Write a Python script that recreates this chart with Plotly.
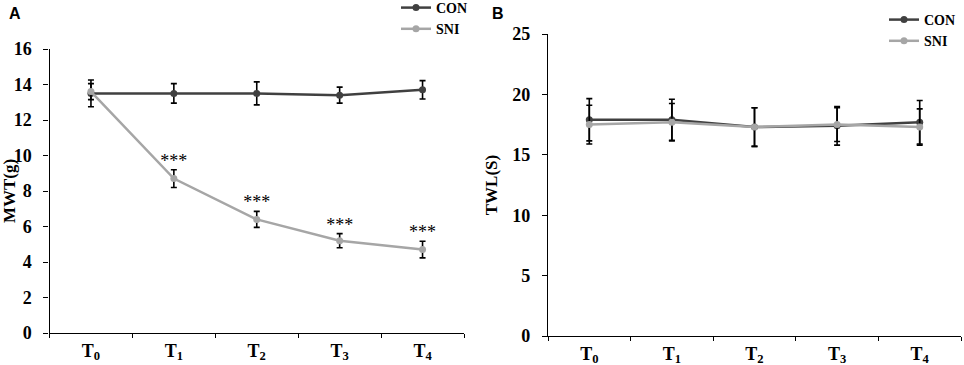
import plotly.graph_objects as go

categories = ["T<sub>0</sub>", "T<sub>1</sub>", "T<sub>2</sub>", "T<sub>3</sub>", "T<sub>4</sub>"]

mwt_con = [13.5, 13.5, 13.5, 13.4, 13.7]
mwt_con_err = [0.75, 0.55, 0.65, 0.45, 0.52]
mwt_sni = [13.6, 8.7, 6.4, 5.2, 4.7]
mwt_sni_err = [0.45, 0.5, 0.45, 0.4, 0.47]
sig_labels = ["", "***", "***", "***", "***"]

twl_con = [17.9, 17.9, 17.3, 17.4, 17.7]
twl_con_err = [1.75, 1.7, 1.6, 1.6, 1.8]
twl_sni = [17.5, 17.7, 17.3, 17.5, 17.3]
twl_sni_err = [1.6, 1.55, 1.6, 1.4, 1.5]

CON_COLOR = "#404040"
SNI_COLOR = "#a6a6a6"
SERIF = "Liberation Serif"

fig = go.Figure()

def add_series(x, y, err, name, color, xa, ya, legend, group):
    fig.add_trace(go.Scatter(
        x=x, y=y, name=name, mode="lines+markers",
        line=dict(color=color, width=2.5),
        marker=dict(color=color, size=7),
        error_y=dict(type="data", array=err, color="black", thickness=1.6, width=3),
        xaxis=xa, yaxis=ya, legend=legend, legendgroup=group,
    ))

add_series(categories, mwt_con, mwt_con_err, "CON", CON_COLOR, "x", "y", "legend", "a")
add_series(categories, mwt_sni, mwt_sni_err, "SNI", SNI_COLOR, "x", "y", "legend", "a")
add_series(categories, twl_con, twl_con_err, "CON", CON_COLOR, "x2", "y2", "legend2", "b")
add_series(categories, twl_sni, twl_sni_err, "SNI", SNI_COLOR, "x2", "y2", "legend2", "b")

# significance markers above SNI error bars
sig_y = [v + e + 0.42 for v, e in zip(mwt_sni, mwt_sni_err)]
fig.add_trace(go.Scatter(
    x=categories, y=sig_y, text=sig_labels, mode="text",
    textfont=dict(family=SERIF, size=18, color="black"),
    textposition="middle center", showlegend=False, hoverinfo="skip",
    xaxis="x", yaxis="y",
))

W, H = 964, 365

def px_x(p):
    return p / W

def px_y(p):
    return (H - p) / H

tickfont = dict(family=SERIF, size=18, color="black", weight="bold")
xcommon = dict(
    type="category", tickson="boundaries", ticks="outside", ticklen=4,
    tickwidth=1.2, tickcolor="black", showline=True, linecolor="black",
    linewidth=1.2, showgrid=False, zeroline=False, tickfont=tickfont,
    range=[-0.5, 4.5], automargin=False, ticklabelstandoff=1,
)
ycommon = dict(
    ticks="outside", ticklen=5, tickwidth=1.2, tickcolor="black",
    showline=True, linecolor="black", linewidth=1.2, showgrid=False,
    zeroline=False, tickfont=tickfont, automargin=False, ticklabelstandoff=8,
)
titlefont = dict(family=SERIF, size=17, color="black", weight="bold")
legfont = dict(family=SERIF, size=14, color="black", weight="bold")

fig.update_layout(
    width=W, height=H,
    margin=dict(l=0, r=0, t=0, b=0, autoexpand=False),
    paper_bgcolor="white", plot_bgcolor="white",
    xaxis=dict(domain=[px_x(49.5), px_x(464)], anchor="y", **xcommon),
    yaxis=dict(domain=[px_y(333), px_y(49)], anchor="x", range=[0, 16],
               dtick=2, title=dict(text="MWT(g)", standoff=1, font=titlefont),
               **ycommon),
    xaxis2=dict(domain=[px_x(548), px_x(961)], anchor="y2", **xcommon),
    yaxis2=dict(domain=[px_y(336), px_y(34)], anchor="x2", range=[0, 25],
                dtick=5, title=dict(text="TWL(S)", standoff=10, font=titlefont),
                **ycommon),
    legend=dict(x=px_x(396), y=px_y(-8), xanchor="left", yanchor="top",
                font=legfont, bgcolor="rgba(0,0,0,0)", itemwidth=30,
                tracegroupgap=0),
    legend2=dict(x=px_x(884), y=px_y(4), xanchor="left", yanchor="top",
                 font=legfont, bgcolor="rgba(0,0,0,0)", itemwidth=30,
                 tracegroupgap=0),
    annotations=[
        dict(text="<b>A</b>", x=px_x(7), y=px_y(3), xref="paper", yref="paper",
             xanchor="left", yanchor="top", showarrow=False,
             font=dict(family="Liberation Sans", size=16, color="black")),
        dict(text="<b>B</b>", x=px_x(490), y=px_y(3), xref="paper", yref="paper",
             xanchor="left", yanchor="top", showarrow=False,
             font=dict(family="Liberation Sans", size=16, color="black")),
    ],
)

fig.write_html(
    "out.html",
    config={"displayModeBar": False},
    post_script="document.body.style.margin='0';document.body.style.overflow='hidden';",
)
